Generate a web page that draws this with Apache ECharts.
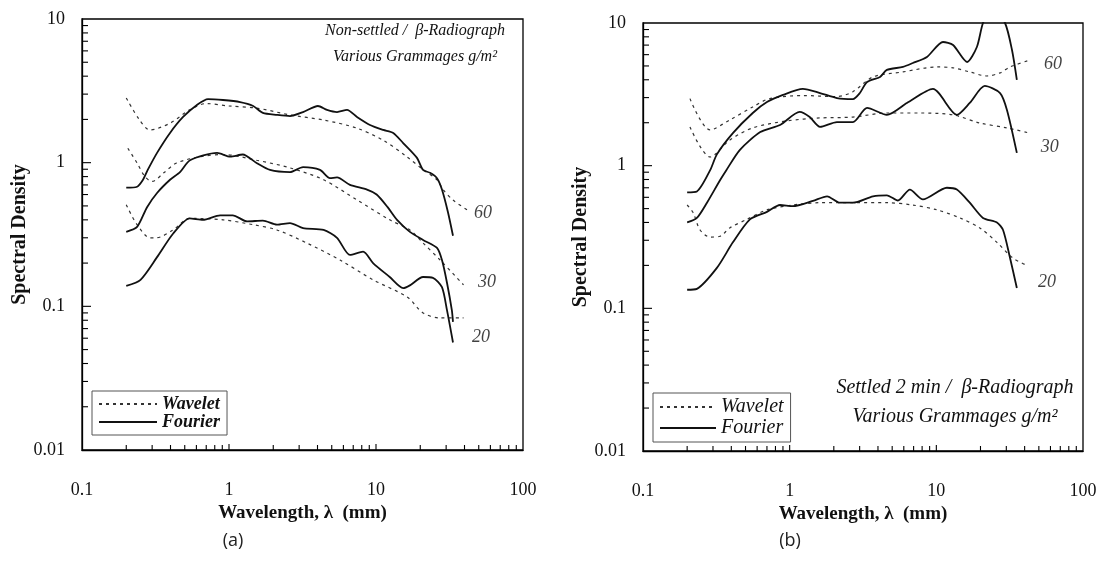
<!DOCTYPE html>
<html><head><meta charset="utf-8">
<script src="https://cdn.jsdelivr.net/npm/echarts@6/dist/echarts.min.js"></script>
<style>html,body{margin:0;padding:0;background:#fff}#c{width:1111px;height:566px}</style>
</head><body><div id="c"></div>
<script>
// ---- Panel (a): Non-settled ----
const aFourier60 = [[0.2,0.67],[0.237,0.68],[0.26,0.76],[0.28,0.89],[0.324,1.17],[0.397,1.61],[0.487,2.08],[0.605,2.52],[0.72,2.77],[0.91,2.73],[1.19,2.64],[1.46,2.48],[1.7,2.22],[2.12,2.15],[2.6,2.11],[3.19,2.25],[4.03,2.48],[4.64,2.33],[5.43,2.25],[6.35,2.33],[7.43,2.08],[9.1,1.83],[11.2,1.69],[13.1,1.61],[15.3,1.37],[19,1.08],[20.9,0.89],[23.3,0.85],[26,0.78],[28.1,0.65],[30.9,0.45],[33.4,0.31]];
const aWavelet60 = [[0.2,2.82],[0.245,2.0],[0.29,1.69],[0.4,1.89],[0.54,2.33],[0.7,2.58],[1.0,2.48],[1.54,2.4],[2.6,2.15],[4.4,1.98],[7.4,1.74],[11.2,1.43],[16.2,1.1],[21,0.89],[26,0.76],[28.6,0.65],[33.4,0.55],[41.6,0.47]];
const aFourier30 = [[0.2,0.33],[0.237,0.357],[0.277,0.49],[0.324,0.615],[0.397,0.76],[0.464,0.86],[0.543,1.04],[0.83,1.17],[1.02,1.1],[1.24,1.14],[1.54,0.995],[1.9,0.89],[2.6,0.86],[3.19,0.93],[4.16,0.89],[4.86,0.78],[5.43,0.79],[6.65,0.7],[8.69,0.65],[10.1,0.6],[12,0.49],[13.9,0.4],[17,0.33],[20.9,0.29],[26,0.255],[28.1,0.21],[30.4,0.146],[32.8,0.094],[33.4,0.078]];
const aWavelet30 = [[0.205,1.26],[0.237,0.995],[0.268,0.8],[0.3,0.74],[0.36,0.85],[0.44,0.995],[0.634,1.1],[0.91,1.14],[1.54,1.04],[2.6,0.92],[4.4,0.76],[7.43,0.55],[12.4,0.4],[17,0.34],[20.9,0.276],[27.3,0.21],[39.4,0.141]];
const aFourier20 = [[0.2,0.139],[0.25,0.153],[0.324,0.22],[0.416,0.32],[0.54,0.41],[0.665,0.4],[0.87,0.43],[1.06,0.43],[1.33,0.39],[1.7,0.395],[2.12,0.37],[2.6,0.38],[3.19,0.35],[4.4,0.34],[5.43,0.3],[6.65,0.228],[8.17,0.24],[9.55,0.2],[12.4,0.16],[15.3,0.134],[17,0.14],[20.9,0.16],[24.4,0.158],[28.1,0.136],[30.4,0.094],[33.4,0.056]];
const aWavelet20 = [[0.2,0.51],[0.237,0.37],[0.29,0.3],[0.32,0.3],[0.416,0.34],[0.54,0.41],[0.91,0.4],[1.46,0.37],[2.12,0.34],[3.38,0.276],[5.69,0.21],[9.55,0.153],[16.3,0.116],[20.9,0.09],[27.3,0.083],[39.4,0.083]];
const aCurveLabels = [[53.5,0.447,'60'],[56.9,0.146,'30'],[51.8,0.061,'20']];

// ---- Panel (b): Settled 2 min ----
const bFourier60 = [[0.2,0.65],[0.233,0.66],[0.287,0.93],[0.319,1.2],[0.41,1.69],[0.56,2.34],[0.7,2.79],[0.9,3.13],[1.23,3.45],[1.61,3.23],[2.1,2.98],[2.7,2.93],[3.01,3.23],[3.37,3.86],[4.13,4.19],[4.6,4.69],[5.92,4.92],[6.92,5.24],[8.63,5.78],[11.1,7.36],[13.0,7.01],[16.2,5.33],[18.9,6.79],[20.8,10],[24,13],[29.4,10],[32.8,6.47],[35.4,3.99]];
const bWavelet60 = [[0.209,2.95],[0.287,1.78],[0.39,2.09],[0.56,2.58],[0.73,2.95],[1.23,3.1],[2.1,3.05],[2.7,3.3],[3.7,4.19],[5.92,4.54],[10.1,4.92],[13,4.85],[16.9,4.54],[22.1,4.25],[27.2,4.47],[31.8,4.92],[43.5,5.5]];
const bFourier30 = [[0.2,0.4],[0.233,0.43],[0.273,0.55],[0.335,0.79],[0.37,0.93],[0.458,1.29],[0.63,1.72],[0.86,1.93],[1.17,2.38],[1.37,2.19],[1.61,1.87],[2.1,2.02],[2.7,2.02],[3.37,2.54],[4.6,2.27],[6.3,2.75],[9.48,3.45],[13.8,2.27],[16.9,2.75],[21.4,3.62],[27.2,3.23],[30.3,2.46],[35.4,1.23]];
const bWavelet30 = [[0.209,1.87],[0.287,1.15],[0.39,1.51],[0.56,1.84],[0.96,2.06],[1.61,2.16],[2.7,2.19],[4.6,2.34],[7.73,2.34],[13,2.27],[19.8,1.99],[30.3,1.84],[43.5,1.69]];
const bFourier20 = [[0.2,0.135],[0.233,0.137],[0.319,0.192],[0.41,0.29],[0.536,0.42],[0.7,0.474],[0.86,0.53],[1.05,0.52],[1.44,0.566],[1.8,0.61],[2.2,0.55],[2.7,0.55],[3.7,0.61],[4.6,0.62],[5.47,0.57],[6.6,0.68],[8.1,0.58],[11.8,0.7],[13.8,0.68],[16.9,0.55],[20.8,0.43],[25.9,0.4],[28.5,0.354],[31.7,0.229],[35.4,0.139]];
const bWavelet20 = [[0.2,0.53],[0.22,0.467],[0.245,0.354],[0.287,0.316],[0.335,0.32],[0.39,0.366],[0.51,0.42],[0.7,0.49],[1.05,0.53],[1.61,0.55],[2.7,0.55],[4.6,0.55],[6.9,0.53],[10.1,0.49],[14.5,0.43],[19.8,0.366],[25.9,0.29],[33.3,0.225],[41.5,0.2]];
const bCurveLabels = [[62.4,5.16,'60'],[59.4,1.35,'30'],[56.8,0.153,'20']];

// ---- Axes ----
const xRange = [0.1, 100];
const yRange = [0.01, 10];
const xMajorTicks = [1, 10];
const xMinorTicks = [0.2,0.3,0.4,0.5,0.6,0.7,0.8,0.9,2,3,4,5,6,7,8,9,20,30,40,50,60,70,80,90];
const yMajorTicks = [0.1, 1];
const yMinorTicks = [0.02,0.03,0.04,0.05,0.06,0.07,0.08,0.09,0.2,0.3,0.4,0.5,0.6,0.7,0.8,0.9,2,3,4,5,6,7,8,9];
const legendNames = ['Wavelet', 'Fourier'];
const annotA = ['Non-settled /  β-Radiograph', 'Various Grammages g/m²'];
const annotB = ['Settled 2 min /  β-Radiograph', 'Various Grammages g/m²'];
const panelTags = ['(a)', '(b)'];

const SERIF = '"Liberation Serif", "DejaVu Serif", serif';
const INK = '#111';
function fmt(v) { return String(parseFloat(Number(v).toPrecision(6))); }

const grids = [
  {left: 82, top: 19, width: 441, height: 431},
  {left: 643, top: 23, width: 440, height: 428}
].map(g => Object.assign({show: true, borderColor: '#000', borderWidth: 1.3, backgroundColor: 'transparent'}, g));

function mkX(gi) {
  return {
    type: 'log', logBase: 10, gridIndex: gi, min: xRange[0], max: xRange[1],
    axisLine: {show: true, lineStyle: {color: '#000', width: 1.3}},
    axisTick: {show: false}, splitLine: {show: false},
    axisLabel: {margin: 31, fontFamily: SERIF, fontSize: 18, color: INK, formatter: fmt, showMinLabel: true, showMaxLabel: true},
    name: 'Wavelength, λ  (mm)', nameLocation: 'middle', nameGap: 52,
    nameTextStyle: {fontFamily: SERIF, fontWeight: 'bold', fontSize: 19, color: INK}
  };
}
function mkY(gi) {
  return {
    type: 'log', logBase: 10, gridIndex: gi, min: yRange[0], max: yRange[1],
    axisLine: {show: true, lineStyle: {color: '#000', width: 1.3}},
    axisTick: {show: false}, splitLine: {show: false},
    axisLabel: {margin: 17, fontFamily: SERIF, fontSize: 18, color: INK, formatter: fmt, showMinLabel: true, showMaxLabel: true},
    name: 'Spectral Density', nameLocation: 'middle', nameGap: 46, nameRotate: 90,
    nameTextStyle: {fontFamily: SERIF, fontWeight: 'bold', fontSize: 20, color: INK}
  };
}

function tickData() {
  const d = [];
  xMinorTicks.forEach(v => d.push([v, yRange[0], 0, 0]));
  xMajorTicks.forEach(v => d.push([v, yRange[0], 0, 1]));
  yMinorTicks.forEach(v => d.push([xRange[0], v, 1, 0]));
  yMajorTicks.forEach(v => d.push([xRange[0], v, 1, 1]));
  return d;
}
function tickSeries(gi) {
  return {
    type: 'custom', xAxisIndex: gi, yAxisIndex: gi, silent: true, z: 5,
    dimensions: ['x', 'y', 'dir', 'major'], encode: {x: 0, y: 1},
    data: tickData(),
    renderItem: function (params, api) {
      const p = api.coord([api.value(0), api.value(1)]);
      const isY = api.value(2) === 1;
      const major = api.value(3) === 1;
      const len = isY ? (major ? 9 : 6) : (major ? 6 : 5);
      return {
        type: 'line',
        shape: isY ? {x1: p[0], y1: p[1], x2: p[0] + len, y2: p[1]} : {x1: p[0], y1: p[1], x2: p[0], y2: p[1] - len},
        style: {stroke: '#000', lineWidth: 1.1}
      };
    }
  };
}

function fourier(gi, data) {
  return {type: 'line', name: 'Fourier', xAxisIndex: gi, yAxisIndex: gi, data: data, symbol: 'none', showSymbol: false,
    smooth: 0.25, clip: true, lineStyle: {color: INK, width: 1.8, type: 'solid'}, itemStyle: {color: INK}, z: 3};
}
function wavelet(gi, data) {
  return {type: 'line', name: 'Wavelet', xAxisIndex: gi, yAxisIndex: gi, data: data, symbol: 'none', showSymbol: false,
    smooth: 0.3, clip: true, lineStyle: {color: '#333', width: 1.2, type: [3, 4]}, itemStyle: {color: '#333'}, z: 2};
}
function labels(gi, arr) {
  return {type: 'scatter', xAxisIndex: gi, yAxisIndex: gi, symbolSize: 1, itemStyle: {color: 'rgba(0,0,0,0)'}, silent: true,
    data: arr.map(r => ({value: [r[0], r[1]], name: r[2]})),
    label: {show: true, position: 'inside', formatter: '{b}', fontFamily: SERIF, fontStyle: 'italic', fontSize: 18, color: INK}};
}

function legendFor(left, top, bold, size, gap, itemW) {
  return {
    data: legendNames, left: left, top: top, orient: 'vertical', itemGap: gap, itemWidth: itemW, itemHeight: 12,
    padding: [4, 7, 4, 6], backgroundColor: '#fff', borderColor: '#555', borderWidth: 1, borderRadius: 0,
    selectedMode: false,
    itemStyle: {opacity: 0, borderWidth: 0},
    textStyle: {fontFamily: SERIF, fontStyle: 'italic', fontWeight: bold ? 'bold' : 'normal', fontSize: size, color: INK}
  };
}

function txt(x, y, s, size, extra) {
  return {type: 'text', x: x, y: y, silent: true,
    style: Object.assign({text: s, fontFamily: SERIF, fontSize: size, fill: INK, align: 'center', verticalAlign: 'middle'}, extra || {})};
}

const option = {
  animation: false,
  backgroundColor: '#fff',
  grid: grids,
  xAxis: [mkX(0), mkX(1)],
  yAxis: [mkY(0), mkY(1)],
  legend: [legendFor(92, 391, true, 18, 0, 58), legendFor(653, 393, false, 20, 1, 56)],
  series: [
    wavelet(0, aWavelet60), wavelet(0, aWavelet30), wavelet(0, aWavelet20),
    fourier(0, aFourier60), fourier(0, aFourier30), fourier(0, aFourier20),
    wavelet(1, bWavelet60), wavelet(1, bWavelet30), wavelet(1, bWavelet20),
    fourier(1, bFourier60), fourier(1, bFourier30), fourier(1, bFourier20),
    labels(0, aCurveLabels), labels(1, bCurveLabels),
    tickSeries(0), tickSeries(1)
  ],
  graphic: [
    txt(415, 31, annotA[0], 16, {fontStyle: 'italic'}),
    txt(415, 57, annotA[1], 16, {fontStyle: 'italic'}),
    txt(955, 388, annotB[0], 20, {fontStyle: 'italic'}),
    txt(955, 417, annotB[1], 20, {fontStyle: 'italic'}),
    txt(233, 541, panelTags[0], 18, {fontFamily: '"Open Sans", "DejaVu Sans", sans-serif', fill: '#222'}),
    txt(790, 541, panelTags[1], 18, {fontFamily: '"Open Sans", "DejaVu Sans", sans-serif', fill: '#222'})
  ]
};

const chart = echarts.init(document.getElementById('c'), null, {renderer: 'canvas'});
chart.setOption(option);
</script>
</body></html>
